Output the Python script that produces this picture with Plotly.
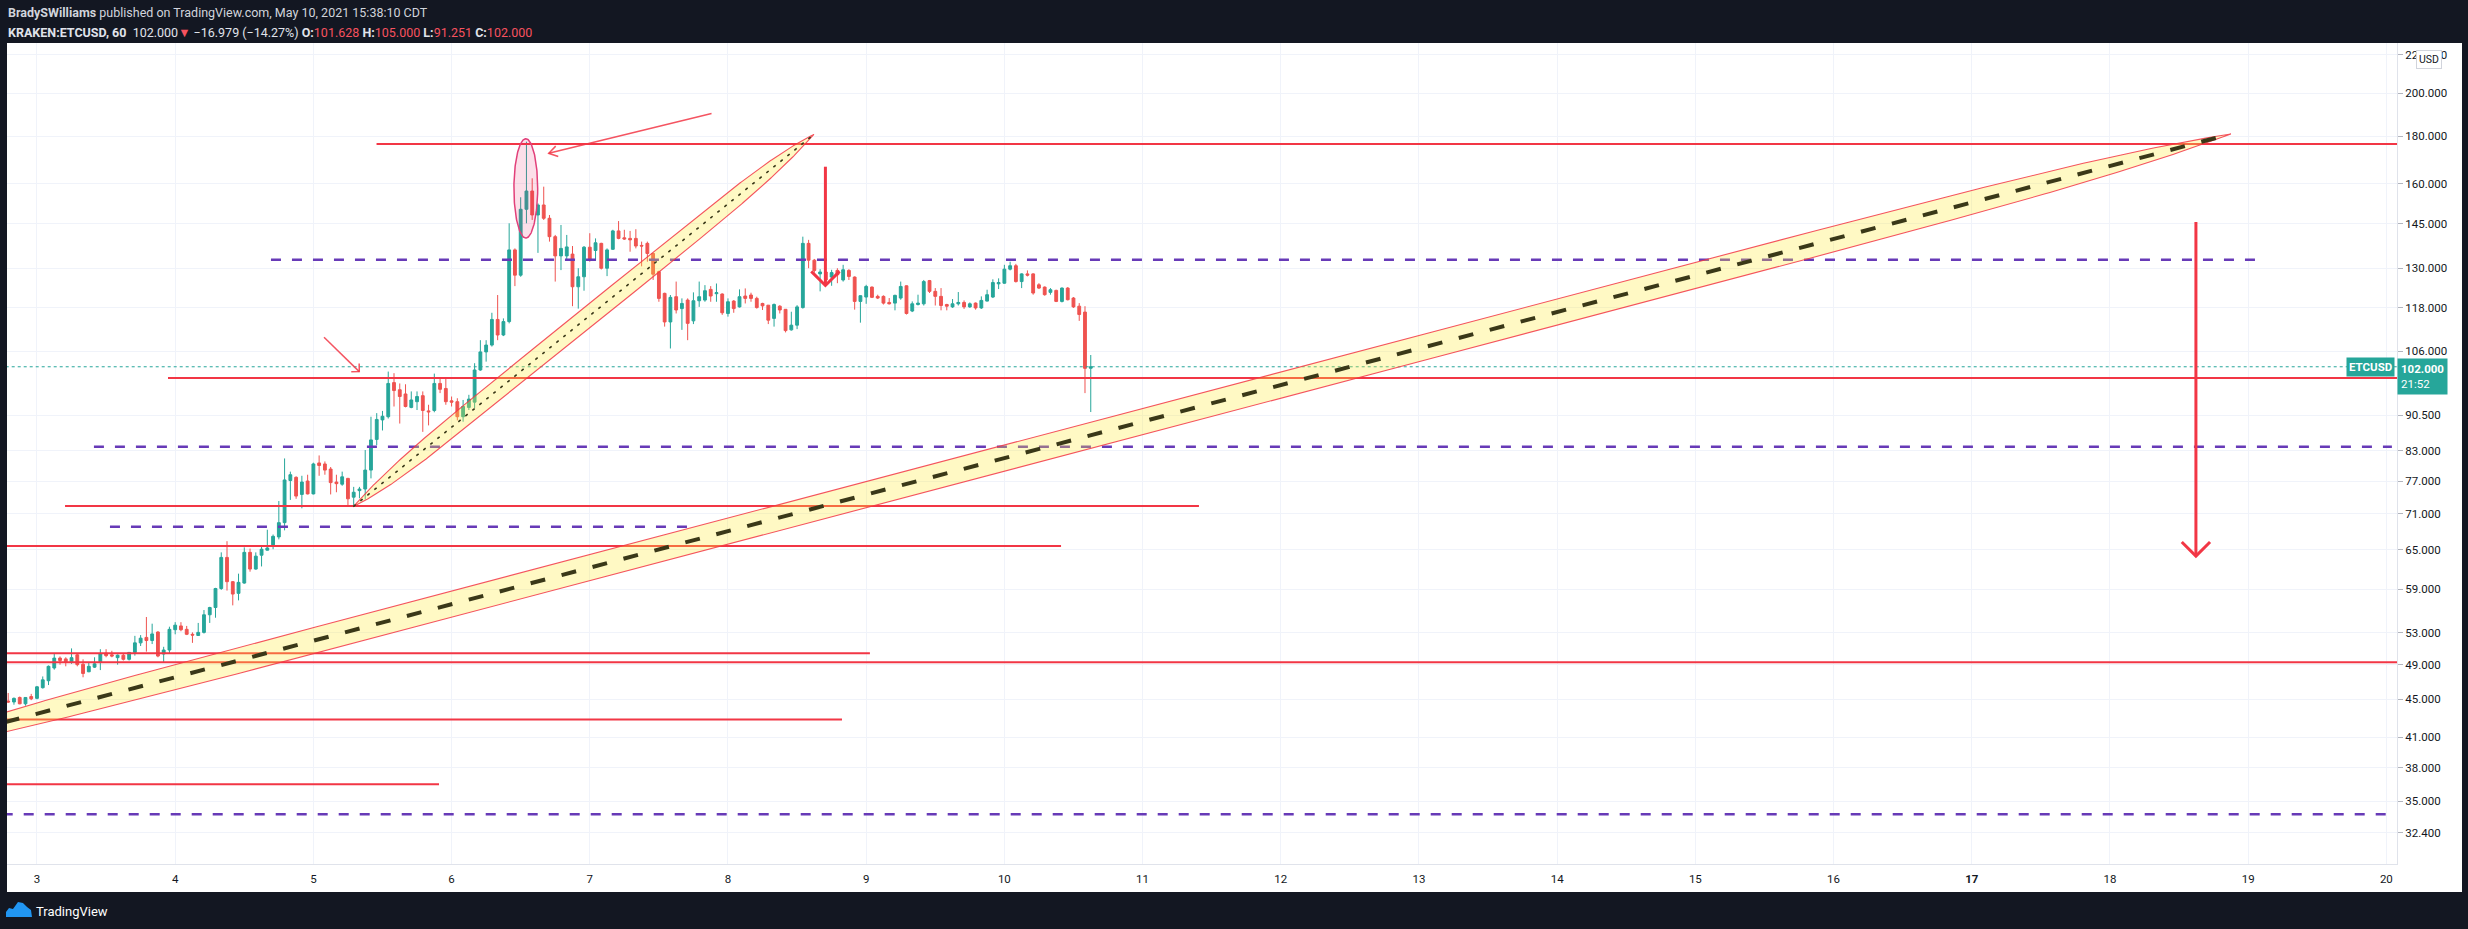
import math
import plotly.graph_objects as go

# ---------------- data ----------------
# hourly candles, hour offset from 2021-05-03 00:00 (chart time)
hour_index = list(range(-5, 184))
opens = [44.8, 44.7, 45.2, 44.5, 45.3, 45.1, 46.3, 47.1, 48.6, 49.8, 49.7, 49.35, 50.2, 49.05, 48.15, 48.7,
         49.35, 50.4, 50.2, 49.85, 50.15, 49.65, 50.5, 51.7, 52.4, 52.0, 53.1, 50.3, 50.8, 53.4, 53.9, 53.45,
         52.8, 52.65, 53.05, 55.4, 56.4, 59.1, 63.8, 60.1, 58.4, 59.9, 64.6, 62.0, 64.15, 64.95, 65.8, 67.1,
         69.5, 77.1, 77.7, 74.5, 77.0, 74.6, 80.5, 80.3, 79.3, 76.8, 76.4, 77.5, 74.0, 75.2, 75.5, 79.1,
         85.3, 89.5, 90.2, 98.1, 96.4, 95.4, 92.3, 93.6, 95.0, 91.5, 91.6, 97.9, 96.7, 93.8, 93.6, 90.2,
         92.3, 93.5, 101.2, 105.8, 107.6, 114.6, 110.3, 114.0, 136.0, 127.8, 150.3, 157.2, 148.2, 151.9, 147.0, 140.5,
         134.0, 134.0, 134.6, 124.2, 127.3, 136.9, 135.8, 138.2, 130.0, 136.2, 142.5, 140.1, 139.9, 139.9, 137.5, 138.2,
         134.8, 128.9, 122.2, 113.9, 121.2, 117.7, 120.2, 114.2, 120.0, 120.2, 123.4, 122.1, 122.0, 116.3, 119.9, 118.2,
         121.4, 121.7, 120.7, 119.2, 118.7, 114.9, 118.4, 117.5, 111.7, 113.0, 118.0, 138.2, 132.6, 128.2, 128.8, 127.2,
         129.3, 126.3, 129.3, 127.2, 119.8, 121.1, 124.1, 121.3, 121.3, 119.5, 119.3, 120.8, 124.5, 117.0, 118.9, 119.1,
         126.1, 122.8, 121.3, 118.9, 118.2, 119.1, 119.5, 118.2, 119.3, 117.9, 119.9, 121.1, 125.1, 125.3, 129.7, 130.8,
         125.8, 128.2, 128.2, 124.8, 124.1, 122.5, 123.1, 119.8, 123.8, 120.8, 118.4, 116.7, 101.628]
highs = [45.7, 45.2, 45.3, 45.25, 45.6, 46.5, 47.6, 48.9, 50.3, 50.0, 49.9, 51.0, 50.4, 49.65, 49.2, 49.9,
         50.9, 50.9, 50.7, 50.25, 50.4, 50.55, 52.6, 52.7, 55.1, 54.2, 53.2, 51.2, 53.8, 54.4, 54.4, 53.9,
         53.05, 54.3, 56.05, 56.5, 59.2, 64.6, 66.4, 60.2, 61.3, 65.4, 65.2, 64.6, 65.7, 68.3, 67.5, 73.3,
         81.4, 78.8, 77.9, 78.0, 78.2, 80.55, 82.0, 80.8, 79.7, 78.2, 78.8, 77.6, 75.9, 75.9, 83.1, 90.2,
         91.0, 91.5, 100.8, 100.4, 97.9, 97.7, 96.0, 96.0, 96.0, 92.9, 100.3, 99.1, 99.1, 94.8, 94.4, 94.0,
         95.2, 102.9, 108.9, 108.9, 116.5, 121.7, 114.9, 145.2, 136.5, 154.8, 177.5, 162.2, 152.5, 158.9, 148.2, 141.1,
         144.6, 141.1, 137.3, 130.0, 137.3, 141.7, 139.9, 138.4, 136.5, 142.9, 146.0, 142.9, 142.5, 143.1, 138.8, 138.8,
         135.0, 129.2, 122.4, 121.7, 125.8, 120.7, 120.7, 122.5, 125.8, 124.7, 124.4, 125.2, 122.2, 120.7, 120.2, 123.4,
         123.7, 122.4, 121.2, 119.4, 118.7, 119.2, 118.7, 117.5, 116.8, 118.7, 140.5, 139.4, 133.0, 129.7, 129.0, 129.5,
         130.0, 131.1, 129.7, 127.4, 121.6, 124.8, 124.3, 121.8, 121.6, 120.8, 121.8, 125.8, 124.6, 119.8, 121.8, 126.3,
         126.3, 123.8, 123.8, 119.1, 120.5, 122.6, 120.1, 119.5, 119.5, 121.3, 123.3, 126.5, 126.8, 131.1, 132.1, 131.4,
         128.4, 129.3, 128.4, 125.3, 124.3, 123.8, 123.3, 124.0, 124.1, 121.1, 119.3, 118.4, 105.0]
lows = [44.6, 44.4, 44.45, 44.3, 44.9, 45.0, 46.2, 46.6, 48.4, 49.0, 48.8, 49.1, 48.8, 47.5, 48.1, 48.6,
        48.35, 49.9, 49.9, 49.0, 49.5, 49.5, 50.1, 51.3, 50.6, 51.55, 49.9, 49.2, 50.4, 52.8, 53.2, 52.7,
        51.7, 52.6, 52.9, 54.3, 55.0, 58.9, 58.8, 56.7, 57.4, 59.8, 61.6, 61.9, 62.4, 64.9, 65.1, 66.7,
        68.2, 73.5, 73.7, 72.0, 74.5, 74.5, 78.0, 78.2, 74.5, 74.9, 76.1, 72.3, 72.3, 73.8, 73.6, 77.5,
        84.1, 87.2, 89.8, 92.5, 88.7, 92.3, 92.1, 91.7, 86.9, 88.3, 91.2, 95.6, 92.9, 92.5, 89.4, 89.1,
        91.7, 92.1, 101.0, 103.3, 107.2, 108.9, 110.0, 113.5, 124.4, 127.3, 145.2, 146.4, 135.0, 146.4, 138.8, 125.8,
        129.4, 132.6, 118.4, 117.7, 123.0, 132.1, 132.6, 129.6, 127.5, 136.0, 139.6, 139.4, 135.4, 136.5, 130.6, 132.1,
        126.3, 119.7, 112.6, 106.7, 116.3, 111.7, 108.9, 113.3, 118.2, 119.7, 119.7, 119.7, 115.9, 115.4, 116.5, 118.0,
        119.2, 119.7, 117.7, 117.3, 113.3, 112.6, 116.3, 111.0, 111.5, 111.9, 117.7, 130.0, 128.6, 122.8, 125.8, 124.5,
        125.3, 125.8, 126.3, 117.4, 113.7, 119.1, 120.8, 120.5, 118.9, 118.9, 117.2, 120.3, 116.0, 116.7, 118.6, 118.6,
        122.3, 118.6, 117.2, 117.2, 117.9, 118.6, 117.6, 117.9, 117.4, 117.6, 119.8, 120.8, 123.5, 125.1, 129.3, 125.5,
        123.8, 127.4, 121.8, 123.5, 121.5, 121.8, 119.6, 119.5, 120.1, 117.9, 114.2, 95.6, 91.251]
closes = [44.7, 45.1, 44.5, 45.2, 45.05, 46.4, 47.2, 48.8, 49.8, 49.5, 49.35, 49.85, 49.0, 47.95, 48.8, 49.1,
          50.3, 50.1, 50.05, 50.15, 49.65, 50.5, 51.7, 52.3, 52.0, 52.85, 50.05, 50.8, 53.45, 54.0, 53.4, 52.8,
          52.7, 53.05, 55.4, 56.4, 59.1, 63.8, 60.1, 58.3, 60.0, 64.6, 62.0, 64.0, 65.1, 65.3, 67.2, 69.5,
          77.2, 78.2, 74.2, 76.8, 74.6, 80.3, 80.0, 79.1, 76.7, 76.5, 77.8, 73.7, 74.9, 75.5, 79.1, 85.2,
          89.6, 90.3, 97.9, 96.2, 94.8, 92.5, 94.0, 94.8, 91.6, 91.3, 97.9, 96.5, 93.6, 93.5, 90.2, 92.5,
          94.2, 101.2, 105.8, 107.6, 114.6, 110.3, 114.0, 136.0, 127.8, 150.3, 157.2, 148.2, 151.9, 147.0, 140.5, 134.0,
          136.5, 137.0, 124.2, 127.3, 136.9, 132.6, 138.4, 130.0, 136.0, 142.5, 139.9, 139.7, 139.4, 137.3, 137.3, 134.8,
          128.1, 120.7, 113.9, 121.0, 117.3, 119.2, 113.5, 120.0, 121.2, 123.0, 121.4, 122.4, 116.5, 119.7, 117.7, 121.2,
          120.7, 120.7, 118.0, 118.5, 114.4, 118.9, 117.3, 111.5, 113.0, 118.2, 138.2, 132.6, 129.3, 128.8, 126.3, 128.6,
          127.9, 129.5, 127.4, 119.8, 121.5, 124.3, 121.0, 120.8, 119.3, 119.1, 121.6, 124.3, 116.3, 119.1, 119.3, 125.8,
          122.8, 121.3, 118.6, 118.4, 119.1, 119.5, 118.2, 119.1, 117.9, 120.1, 121.8, 125.5, 125.5, 129.7, 130.8, 125.8,
          128.2, 127.8, 122.3, 123.8, 121.8, 123.3, 119.8, 123.8, 120.3, 118.2, 116.0, 101.6, 102.0]

day_ticks = list(range(3, 21))                     # day of May 2021
price_ticks = [32.4, 35, 38, 41, 45, 49, 53, 59, 65, 71, 77, 83, 90.5, 106, 118, 130, 145, 160, 180, 200, 220]
last_price = 102.0

# horizontal drawings: price, start day, end day
red_level_price = [176.5, 99.2, 72.4, 65.6, 50.4, 49.3, 42.8, 36.5]
red_level_start = [5.457, 3.948, 3.203, 2.6, 2.6, 2.6, 2.6, 2.6]
red_level_end = [21.0, 21.0, 11.408, 10.410, 9.027, 21.0, 8.825, 5.909]
purple_level_price = [132.7, 83.8, 68.8, 33.9]
purple_level_start = [4.693, 3.412, 3.528, 2.6]
purple_level_end = [19.10, 20.04, 7.754, 20.04]

# long thin channels (tip to tip), vertical half-thickness in % of price
channel_start_day = [1.647, 5.289]
channel_start_price = [38.45, 72.3]
channel_end_day = [18.875, 8.622]
channel_end_price = [180.9, 180.7]
channel_half_pct = [3.3, 3.1]

# highlighted wick (ellipse)
highlight_day = 6.537
highlight_half_days = 0.086
highlight_top = 178.8
highlight_bottom = 140.0

# arrows: from -> to
arrow_from_day = [18.622, 8.705, 7.881, 5.077]
arrow_from_price = [145.7, 166.9, 190.3, 109.7]
arrow_to_day = [18.622, 8.705, 6.703, 5.332]
arrow_to_price = [64.0, 124.6, 172.5, 100.8]

# ---------------- layout geometry ----------------
W, H = 2468, 929
ML, MR, MT, MB = 7, 71, 43, 65
PW, PH = W - ML - MR, H - MT - MB
X_RANGE = [2.783, 20.077]
Y_LIMITS = [30.0, 226.3]
LY0, LY1 = math.log10(Y_LIMITS[0]), math.log10(Y_LIMITS[1])

UP, DN, RED, PURPLE = '#26a69a', '#ef5350', '#f23645', '#673ab7'
FONT = 'Roboto'


def to_px(d, p):
    return (ML + (d - X_RANGE[0]) / (X_RANGE[1] - X_RANGE[0]) * PW,
            MT + (LY1 - math.log10(p)) / (LY1 - LY0) * PH)


def from_px(x, y):
    return (X_RANGE[0] + (x - ML) / PW * (X_RANGE[1] - X_RANGE[0]),
            10 ** (LY1 - (y - MT) / PH * (LY1 - LY0)))


def paper_x(px):
    return (px - ML) / PW


def paper_y(py):
    return 1 - (py - MT) / PH


fig = go.Figure()

times = [3 + h / 24 for h in hour_index]
fig.add_trace(go.Candlestick(
    x=times, open=opens, high=highs, low=lows, close=closes,
    increasing=dict(line=dict(color=UP, width=1), fillcolor=UP),
    decreasing=dict(line=dict(color=DN, width=1), fillcolor=DN),
    whiskerwidth=0, showlegend=False, hoverinfo='skip'))


def line(xs, ys, color, width, dash='solid', **kw):
    fig.add_trace(go.Scatter(x=xs, y=ys, mode='lines', line=dict(color=color, width=width, dash=dash),
                             hoverinfo='skip', showlegend=False, **kw))


# last price dotted line
line([2.6, 21.0], [last_price, last_price], UP, 1, 'dot')

for p, a, b in zip(purple_level_price, purple_level_start, purple_level_end):
    line([a, b], [p, p], PURPLE, 2.5, '10px,11px')
for p, a, b in zip(red_level_price, red_level_start, red_level_end):
    line([a, b], [p, p], RED, 2)


def channel(d1, p1, d2, p2, half_pct, n, num=500):
    l1, l2 = math.log10(p1), math.log10(p2)
    hw = math.log10(1 + half_pct / 100)
    up, lo = [], []
    for i in range(num + 1):
        t = i / num
        s = 2 * t - 1
        d = d1 + (d2 - d1) * t
        lc = l1 + (l2 - l1) * t
        h = hw * (1 - abs(s) ** n)
        up.append((d, 10 ** (lc + h)))
        lo.append((d, 10 ** (lc - h)))
    ring = up + lo[::-1] + [up[0]]
    return [q[0] for q in ring], [q[1] for q in ring]


tapers = [10, 6]
mid_styles = [dict(width=4, dash='15px,17px'), dict(width=1.6, dash='3px,6px')]
for i in range(len(channel_start_day)):
    xs, ys = channel(channel_start_day[i], channel_start_price[i], channel_end_day[i], channel_end_price[i],
                     channel_half_pct[i], tapers[i])
    fig.add_trace(go.Scatter(x=xs, y=ys, mode='lines', fill='toself', fillcolor='rgba(255,235,59,0.30)',
                             line=dict(color='rgba(242,54,69,0.85)', width=1.1), hoverinfo='skip',
                             showlegend=False))
    line([channel_start_day[i], channel_end_day[i]], [channel_start_price[i], channel_end_price[i]],
         '#3a3818', mid_styles[i]['width'], mid_styles[i]['dash'])

# highlight ellipse
lc = (math.log10(highlight_top) + math.log10(highlight_bottom)) / 2
lr = (math.log10(highlight_top) - math.log10(highlight_bottom)) / 2
ex, ey = [], []
for i in range(181):
    t = 2 * math.pi * i / 180
    ex.append(highlight_day + highlight_half_days * math.cos(t))
    ey.append(10 ** (lc + lr * math.sin(t)))
fig.add_trace(go.Scatter(x=ex, y=ey, mode='lines', fill='toself', fillcolor='rgba(233,30,99,0.14)',
                         line=dict(color='#e2407a', width=1.5), hoverinfo='skip', showlegend=False))

# arrows
arrow_w = [3, 3, 1.5, 1.5]
arrow_head = [20, 20, 10, 8]
arrow_ang = [45, 45, 32, 45]
arrow_col = [RED, RED, 'rgba(242,54,69,0.85)', 'rgba(242,54,69,0.85)']
for i in range(len(arrow_from_day)):
    d0, p0, d1, p1 = arrow_from_day[i], arrow_from_price[i], arrow_to_day[i], arrow_to_price[i]
    line([d0, d1], [p0, p1], arrow_col[i], arrow_w[i])
    xt, yt = to_px(d1, p1)
    xf, yf = to_px(d0, p0)
    L = math.hypot(xf - xt, yf - yt)
    ux, uy = (xf - xt) / L, (yf - yt) / L
    pts = []
    for sgn in (1, -1):
        a = math.radians(arrow_ang[i] * sgn)
        rx, ry = ux * math.cos(a) - uy * math.sin(a), ux * math.sin(a) + uy * math.cos(a)
        pts.append(from_px(xt + rx * arrow_head[i], yt + ry * arrow_head[i]))
    line([pts[0][0], d1, pts[1][0]], [pts[0][1], p1, pts[1][1]], arrow_col[i], arrow_w[i])

# ---------------- layout ----------------
shapes = [dict(type='rect', xref='paper', yref='paper', x0=paper_x(7), x1=paper_x(2462),
               y0=paper_y(892), y1=paper_y(43), fillcolor='white', line=dict(width=0), layer='below')]
# TradingView logo (small cloud mark)
logo_px = [(6, 917), (6, 912), (9, 908), (13, 909), (18, 902), (23, 903), (27, 907), (31, 910), (32, 917)]
path = 'M ' + ' L '.join(f'{paper_x(x):.5f},{paper_y(y):.5f}' for x, y in logo_px) + ' Z'
shapes.append(dict(type='path', xref='paper', yref='paper', path=path, fillcolor='#2196f3',
                   line=dict(width=0)))

red_span = lambda s: f"<span style='color:#f7525f'>{s}</span>"
annotations = [
    dict(xref='paper', yref='paper', x=paper_x(6), y=paper_y(13), xanchor='left', yanchor='middle',
         showarrow=False, font=dict(family=FONT, size=12.5, color='#d1d4dc'),
         text='<b>BradySWilliams</b> published on TradingView.com, May 10, 2021 15:38:10 CDT'),
    dict(xref='paper', yref='paper', x=paper_x(6), y=paper_y(32), xanchor='left', yanchor='middle',
         showarrow=False, font=dict(family=FONT, size=12.5, color='#e0e3eb'),
         text=('<b>KRAKEN:ETCUSD, 60</b>  102.000' + red_span('▼') + ' −16.979 (−14.27%) '
               '<b>O:</b>' + red_span('101.628') + ' <b>H:</b>' + red_span('105.000') +
               ' <b>L:</b>' + red_span('91.251') + ' <b>C:</b>' + red_span('102.000'))),
    dict(xref='paper', yref='paper', x=paper_x(34), y=paper_y(911), xanchor='left', yanchor='middle',
         showarrow=False, font=dict(family=FONT, size=13, color='#ffffff'), text='TradingView'),
    dict(xref='paper', yref='y', x=1, y=math.log10(last_price), xanchor='right', yanchor='middle',
         xshift=-2, showarrow=False, bgcolor=UP, borderpad=2,
         font=dict(family=FONT, size=11.5, color='white'), text='<b>ETCUSD</b>'),
    dict(xref='paper', yref='y', x=1, y=math.log10(last_price), xanchor='left', yanchor='top',
         yshift=9, showarrow=False, bgcolor=UP, borderpad=3, align='left',
         font=dict(family=FONT, size=11.5, color='white'), text='<b>102.000</b><br>21:52'),
    dict(xref='paper', yref='paper', x=paper_x(2429), y=paper_y(59.5), xanchor='center', yanchor='middle',
         showarrow=False, bgcolor='white', bordercolor='#d1d4dc', borderwidth=1, borderpad=2,
         font=dict(family=FONT, size=10.5, color='#131722'), text='USD'),
]

fig.update_layout(
    width=W, height=H, margin=dict(l=ML, r=MR, t=MT, b=MB, autoexpand=False),
    paper_bgcolor='#131722', plot_bgcolor='white', showlegend=False,
    shapes=shapes, annotations=annotations, hovermode=False,
    xaxis=dict(range=X_RANGE, tickvals=day_ticks,
               ticktext=[('<b>%d</b>' % d if d == 17 else str(d)) for d in day_ticks],
               showgrid=True, gridcolor='#f0f3fa', gridwidth=1, zeroline=False,
               showline=True, linecolor='#e0e3eb', linewidth=1,
               ticks='outside', ticklen=4, tickcolor='rgba(0,0,0,0)',
               tickfont=dict(family=FONT, size=11.5, color='#131722'),
               rangeslider=dict(visible=False), fixedrange=True),
    yaxis=dict(type='log', range=[LY0, LY1], side='right', tickvals=price_ticks,
               ticktext=['%.3f' % v for v in price_ticks], showgrid=True, gridcolor='#f0f3fa',
               gridwidth=1, zeroline=False, showline=True, linecolor='#e0e3eb', linewidth=1,
               ticks='outside', ticklen=5, tickcolor='#b2b5be',
               tickfont=dict(family=FONT, size=11.5, color='#131722'), fixedrange=True),
)

# the page's default 8px body margin would shift the whole figure; remove it
fig.write_html('out.html', config={'displayModeBar': False},
               post_script="document.body.style.margin='0';document.body.style.overflow='hidden';"
                           "document.body.style.background='#131722';")
